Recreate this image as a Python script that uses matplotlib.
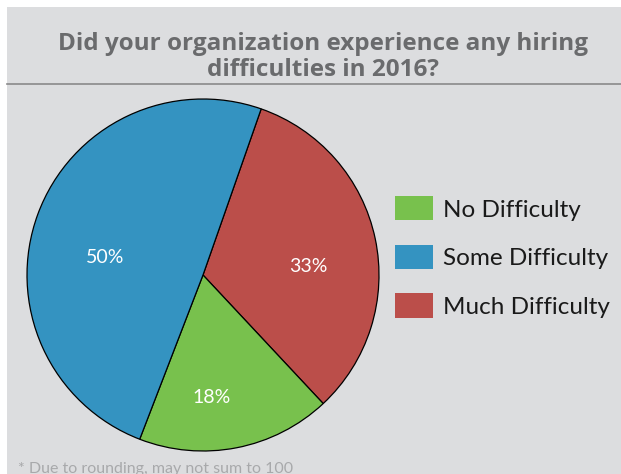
import matplotlib
matplotlib.use("Agg")
import matplotlib.pyplot as plt
from matplotlib.patches import Rectangle
from matplotlib.lines import Line2D
import numpy as np

# survey answers (legend order)
labels = ["No Difficulty", "Some Difficulty", "Much Difficulty"]
shares = [18, 50, 33]
colors = ["#78c14d", "#3493c1", "#bb4e4a"]

# wedge order going clockwise from the top: Much, No, Some
wedge_order = [2, 0, 1]
# where the percent text sits: (radius fraction, angle nudge in degrees)
label_pos = {0: (0.70, -7), 1: (0.565, 10), 2: (0.60, -7)}

bg = "#dcdddf"
W, H = 621, 474

fig = plt.figure(figsize=(W / 100, H / 100), dpi=100, facecolor="white")
fig.patches.append(Rectangle((7 / W, 0), 1, (H - 7) / H, transform=fig.transFigure,
                             facecolor=bg, edgecolor="none", zorder=-1))
fig.lines.append(Line2D([7 / W, 1], [(H - 84) / H, (H - 84) / H], transform=fig.transFigure,
                        color="#8a8a8a", lw=1.2))

fig.text(323 / W, (H - 57) / H, "Did your organization experience any hiring\ndifficulties in 2016?",
         ha="center", va="center", fontsize=17.5, fontweight="bold", color="#6a6b6d",
         family="Open Sans", linespacing=1.13)

ax = fig.add_axes([(203 - 176) / W, (H - 275 - 176) / H, 352 / W, 352 / H])
ax.set_facecolor("none")
vals = [shares[i] for i in wedge_order]
cols = [colors[i] for i in wedge_order]
wedges, _ = ax.pie(vals, colors=cols, startangle=70.7, counterclock=False, radius=1,
                   wedgeprops=dict(edgecolor="black", linewidth=0.9))
for w, i in zip(wedges, wedge_order):
    d, nudge = label_pos[i]
    ang = np.deg2rad((w.theta1 + w.theta2) / 2 + nudge)
    ax.text(d * np.cos(ang), d * np.sin(ang), f"{shares[i]}%", ha="center", va="center",
            color="white", fontsize=14, family="Lato")
ax.set_xlim(-1, 1)
ax.set_ylim(-1, 1)
ax.axis("off")

handles = [wedges[wedge_order.index(i)] for i in range(3)]
leg = fig.legend(handles, labels, loc="upper left", bbox_to_anchor=(388 / W, (H - 189) / H),
                 frameon=False, prop={"family": "Lato", "size": 17.5},
                 handlelength=1.55, handleheight=1.15, labelspacing=1.0, handletextpad=0.4,
                 borderaxespad=0, borderpad=0.3)
for h in leg.legend_handles:
    h.set_edgecolor("none")
for t in leg.get_texts():
    t.set_color("#1a1a1a")

fig.text(18 / W, (H - 469) / H, "* Due to rounding, may not sum to 100", ha="left", va="center",
         fontsize=11.5, color="#a8a9ab", family="Lato")

fig.savefig("out.png", dpi=100, facecolor="white")
